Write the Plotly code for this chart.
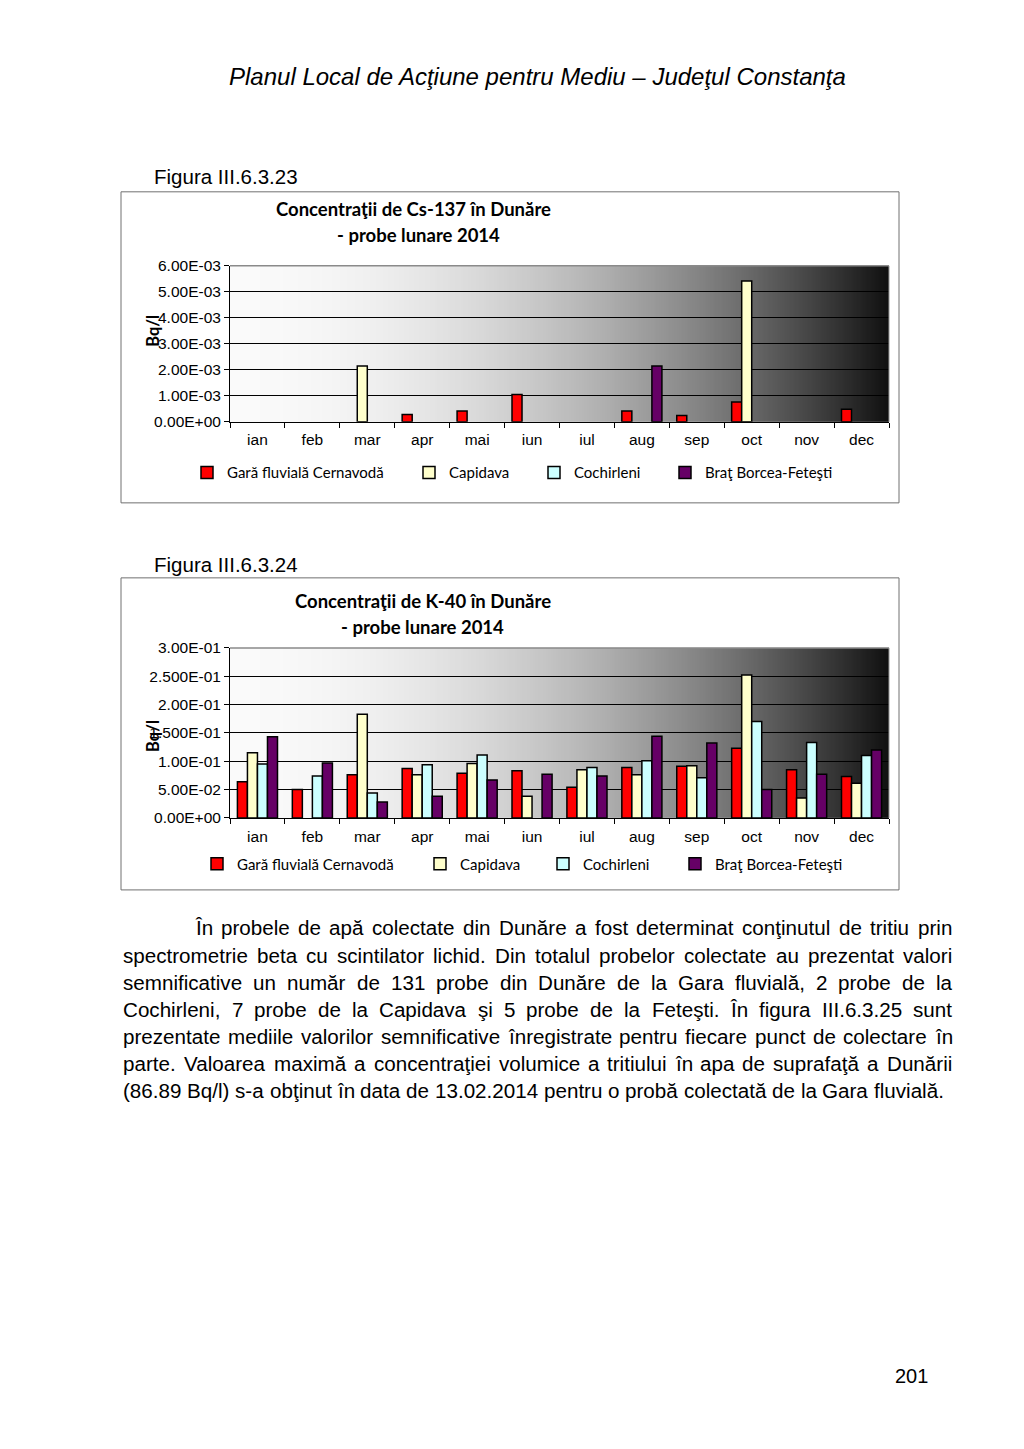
import zlib, struct, base64
import plotly.graph_objects as go

# page is 1024x1449; the HTML body adds an 8px margin, so the figure is drawn
# 8px in from every side and page coordinates are mapped into it.
PAGE_W, PAGE_H = 1024, 1449
OX, OY = 8, 8
W, H = PAGE_W - 2 * OX, PAGE_H - 2 * OY
# empirical vertical calibration of the captured picture
YS, YB = 0.988, 9.3

# ---------------- data ----------------
months = ["ian", "feb", "mar", "apr", "mai", "iun", "iul", "aug", "sep", "oct", "nov", "dec"]
series_names = ["Gară fluvială Cernavodă", "Capidava", "Cochirleni", "Braţ Borcea-Feteşti"]
series_colors = ["#FF0000", "#FFFFCC", "#CCFFFF", "#660066"]

# Cs-137 (Bq/l)
cs_gara = [None, None, None, 0.00028, 0.00042, 0.00105, None, 0.00042, 0.00024, 0.00076, None, 0.00048]
cs_capidava = [None, None, 0.00215, None, None, None, None, None, None, 0.00542, None, None]
cs_cochirleni = [None, None, None, None, None, None, None, None, None, None, None, None]
cs_borcea = [None, None, None, None, None, None, None, 0.00215, None, None, None, None]

# K-40 (Bq/l)
k_gara = [0.064, 0.050, 0.076, 0.087, 0.079, 0.083, 0.054, 0.089, 0.091, 0.123, 0.085, 0.073]
k_capidava = [0.115, None, 0.183, 0.076, 0.096, 0.038, 0.085, 0.076, 0.092, 0.252, 0.035, 0.061]
k_cochirleni = [0.095, 0.074, 0.044, 0.094, 0.111, None, 0.089, 0.101, 0.071, 0.170, 0.133, 0.110]
k_borcea = [0.143, 0.097, 0.028, 0.038, 0.067, 0.077, 0.074, 0.144, 0.132, 0.050, 0.077, 0.120]

cs_tickvals = [0, 0.001, 0.002, 0.003, 0.004, 0.005, 0.006]
cs_ticktext = ["0.00E+00", "1.00E-03", "2.00E-03", "3.00E-03", "4.00E-03", "5.00E-03", "6.00E-03"]
k_tickvals = [0, 0.05, 0.10, 0.15, 0.20, 0.25, 0.30]
k_ticktext = ["0.00E+00", "5.00E-02", "1.00E-01", "1.500E-01", "2.00E-01", "2.500E-01", "3.00E-01"]

header_text = "Planul Local de Acţiune pentru Mediu – Judeţul Constanţa"
fig1_label = "Figura III.6.3.23"
fig2_label = "Figura III.6.3.24"
title1 = ["Concentraţii de Cs-137 în Dunăre", "- probe lunare 2014"]
title2 = ["Concentraţii de K-40 în Dunăre", "- probe lunare 2014"]
y_title = "Bq/l"
paragraph_lines = [
    "În probele de apă colectate din Dunăre a fost determinat conţinutul de tritiu prin",
    "spectrometrie beta cu scintilator lichid. Din totalul probelor colectate au prezentat valori",
    "semnificative un număr de 131 probe din Dunăre de la Gara fluvială, 2 probe de la",
    "Cochirleni, 7 probe de la Capidava şi 5 probe de la Feteşti. În figura III.6.3.25 sunt",
    "prezentate mediile valorilor semnificative înregistrate pentru fiecare punct de colectare în",
    "parte. Valoarea maximă a concentraţiei volumice a tritiului în apa de suprafaţă a Dunării",
    "(86.89 Bq/l) s-a obţinut în data de 13.02.2014 pentru o probă colectată de la Gara fluvială.",
]
page_number = "201"

# ---------------- helpers ----------------
def px(x):
    return (x - OX) / W

def fy(y):
    return (y - YB) / YS - OY

def py(y):
    return 1 - fy(y) / H

ARIAL = "Arial, Liberation Sans, sans-serif"
LATO = "Lato, Carlito, sans-serif"

AW = {' ': 278, '.': 278, ',': 278, '(': 333, ')': 333, '-': 333, '/': 278, '–': 556,
      'a': 556, 'b': 556, 'c': 500, 'd': 556, 'e': 556, 'f': 278, 'g': 556, 'h': 556, 'i': 222,
      'j': 222, 'k': 500, 'l': 222, 'm': 833, 'n': 556, 'o': 556, 'p': 556, 'q': 556, 'r': 333,
      's': 500, 't': 278, 'u': 556, 'v': 500, 'w': 722, 'x': 500, 'y': 500, 'z': 500,
      'A': 667, 'B': 667, 'C': 722, 'D': 722, 'E': 667, 'F': 611, 'G': 778, 'H': 722, 'I': 278,
      'J': 500, 'K': 667, 'L': 556, 'M': 833, 'N': 722, 'O': 778, 'P': 667, 'Q': 778, 'R': 722,
      'S': 667, 'T': 611, 'U': 722, 'V': 667, 'W': 944, 'X': 667, 'Y': 667, 'Z': 611,
      'ă': 556, 'â': 556, 'î': 278, 'ş': 500, 'ţ': 278, 'Î': 278, 'Ş': 667, 'Ţ': 611}

def tw(s, size):
    return sum(AW.get(c, 556) for c in s) * size / 1000.0

def gradient_png():
    vals = [max(0, min(255, round(250 - 233 * (i / 255) ** 2))) for i in range(256)]
    w, h = len(vals), 2
    raw = b''.join(b'\x00' + bytes(vals) for _ in range(h))

    def chunk(tag, data):
        return (struct.pack('>I', len(data)) + tag + data +
                struct.pack('>I', zlib.crc32(tag + data) & 0xffffffff))
    png = (b'\x89PNG\r\n\x1a\n' +
           chunk(b'IHDR', struct.pack('>IIBBBBB', w, h, 8, 0, 0, 0, 0)) +
           chunk(b'IDAT', zlib.compress(raw)) + chunk(b'IEND', b''))
    return 'data:image/png;base64,' + base64.b64encode(png).decode()

GRAD = gradient_png()

# chart geometry (page pixels)
PL, PR = 230, 889
C1_TOP, C1_BOT = 266, 422
C2_TOP, C2_BOT = 648, 818

fig = go.Figure()

cs_series = [cs_gara, cs_capidava, cs_cochirleni, cs_borcea]
k_series = [k_gara, k_capidava, k_cochirleni, k_borcea]

for i, (name, col, vals) in enumerate(zip(series_names, series_colors, cs_series)):
    fig.add_trace(go.Bar(x=months, y=vals, name=name, xaxis="x", yaxis="y", showlegend=True,
                         marker=dict(color=col, line=dict(color="black", width=1.5)),
                         legend="legend" if i == 0 else f"legend{i + 1}"))
for i, (name, col, vals) in enumerate(zip(series_names, series_colors, k_series)):
    fig.add_trace(go.Bar(x=months, y=vals, name=name, xaxis="x2", yaxis="y2", showlegend=True,
                         marker=dict(color=col, line=dict(color="black", width=1.5)),
                         legend=f"legend{i + 5}"))

tickfont = dict(family=ARIAL, size=15.5, color="black")
xcommon = dict(type="category", categoryorder="array", categoryarray=months,
               showgrid=False, showline=True, linecolor="black", linewidth=1,
               ticks="outside", ticklen=5, tickcolor="black", tickson="boundaries",
               tickfont=tickfont, ticklabelstandoff=4, fixedrange=True)
ycommon = dict(showgrid=True, gridcolor="black", gridwidth=1, zeroline=False,
               showline=True, linecolor="black", linewidth=1, ticks="outside",
               ticklen=5, tickcolor="black", tickfont=tickfont, fixedrange=True)

fig.update_layout(
    width=W, height=H, autosize=False, showlegend=True,
    margin=dict(l=0, r=0, t=0, b=0, pad=0),
    paper_bgcolor="white", plot_bgcolor="rgba(0,0,0,0)",
    barmode="group", bargap=0.27, bargroupgap=0,
    xaxis=dict(domain=[px(PL), px(PR)], anchor="y", **xcommon),
    yaxis=dict(domain=[py(C1_BOT), py(C1_TOP)], anchor="x", range=[0, 0.006],
               tickvals=cs_tickvals, ticktext=cs_ticktext, **ycommon),
    xaxis2=dict(domain=[px(PL), px(PR)], anchor="y2", **xcommon),
    yaxis2=dict(domain=[py(C2_BOT), py(C2_TOP)], anchor="x2", range=[0, 0.30],
                tickvals=k_tickvals, ticktext=k_ticktext, **ycommon),
)

# legends: one per series so the entries sit where the original places them
leg_text_x = [[224, 446, 571, 702], [234, 457, 580, 712]]
leg_y = [473, 864]
for c in range(2):
    for i in range(4):
        k = c * 4 + i + 1
        key = "legend" if k == 1 else f"legend{k}"
        fig.update_layout(**{key: dict(
            x=px(leg_text_x[c][i] + 3 - 40), xanchor="left",
            y=py(leg_y[c]), yanchor="middle", orientation="h", visible=True,
            bgcolor="rgba(0,0,0,0)", borderwidth=0, itemwidth=30,
            font=dict(family=LATO, size=15, color="black"))})

# gradient plot backgrounds
images = []
for top, bot in [(C1_TOP, C1_BOT), (C2_TOP, C2_BOT)]:
    images.append(dict(source=GRAD, xref="paper", yref="paper", x=px(PL), y=py(top),
                       sizex=px(PR) - px(PL), sizey=(fy(bot) - fy(top)) / H, xanchor="left",
                       yanchor="top", sizing="stretch", layer="below"))
fig.update_layout(images=images)

shapes = []
# outer chart boxes
for (x0, y0, x1, y1) in [(121, 192, 899, 503), (121, 578, 899, 890)]:
    shapes.append(dict(type="rect", xref="paper", yref="paper", x0=px(x0), y0=py(y0),
                       x1=px(x1), y1=py(y1), line=dict(color="#707070", width=1),
                       fillcolor="rgba(0,0,0,0)"))
# plot area top/right edge
for top, bot in [(C1_TOP, C1_BOT), (C2_TOP, C2_BOT)]:
    shapes.append(dict(type="line", xref="paper", yref="paper", x0=px(PL), x1=px(PR),
                       y0=py(top), y1=py(top), line=dict(color="#8a8a8a", width=1.5)))
    shapes.append(dict(type="line", xref="paper", yref="paper", x0=px(PR), x1=px(PR),
                       y0=py(top), y1=py(bot), line=dict(color="#9a9a9a", width=1)))
fig.update_layout(shapes=shapes)

ann = []
# page header
ann.append(dict(text="<i>" + header_text + "</i>", x=px(537), y=py(77), xref="paper", yref="paper",
                showarrow=False, xanchor="center", yanchor="middle",
                font=dict(family=ARIAL, size=24, color="black")))
# figure labels
for lbl, yy in [(fig1_label, 177), (fig2_label, 565)]:
    ann.append(dict(text=lbl, x=px(152), y=py(yy), xref="paper", yref="paper", showarrow=False,
                    xanchor="left", yanchor="middle", font=dict(family=ARIAL, size=20.5, color="black")))
# chart titles
for lines, centers in [(title1, [(413, 209), (418, 235)]), (title2, [(423, 601), (422, 627)])]:
    for t, (cx, cy) in zip(lines, centers):
        ann.append(dict(text="<b>" + t + "</b>", x=px(cx), y=py(cy), xref="paper", yref="paper",
                        showarrow=False, xanchor="center", yanchor="middle",
                        font=dict(family=LATO, size=18.5, color="black")))
# y-axis titles
for cy in [331, 736]:
    ann.append(dict(text="<b>" + y_title + "</b>", x=px(153), y=py(cy), xref="paper", yref="paper",
                    showarrow=False, textangle=-90, xanchor="center", yanchor="middle",
                    font=dict(family=LATO, size=16.5, color="black")))

# justified paragraph
TL, TR = 122, 951
INDENT = 194
last = paragraph_lines[-1]
fs = (943 - TL) / (tw(last, 1000) / 1000.0)
line_y0, line_dy = 928, 27.1
for li, line in enumerate(paragraph_lines):
    words = line.split(" ")
    left = INDENT if li == 0 else TL
    yy = line_y0 + li * line_dy
    widths = [tw(w_, fs) for w_ in words]
    if li == len(paragraph_lines) - 1:
        gap = tw(" ", fs)
    else:
        gap = (TR - left - sum(widths)) / (len(words) - 1)
    xx = left
    for w_, wd in zip(words, widths):
        ann.append(dict(text=w_, x=px(xx), y=py(yy), xref="paper", yref="paper", showarrow=False,
                        xanchor="left", yanchor="middle", borderpad=0,
                        font=dict(family=ARIAL, size=fs, color="black")))
        xx += wd + gap

# page number
ann.append(dict(text=page_number, x=px(911), y=py(1376), xref="paper", yref="paper",
                showarrow=False, xanchor="center", yanchor="middle",
                font=dict(family=ARIAL, size=20, color="black")))

fig.update_layout(annotations=ann)

fig.write_html("out.html", config={"displayModeBar": False})
